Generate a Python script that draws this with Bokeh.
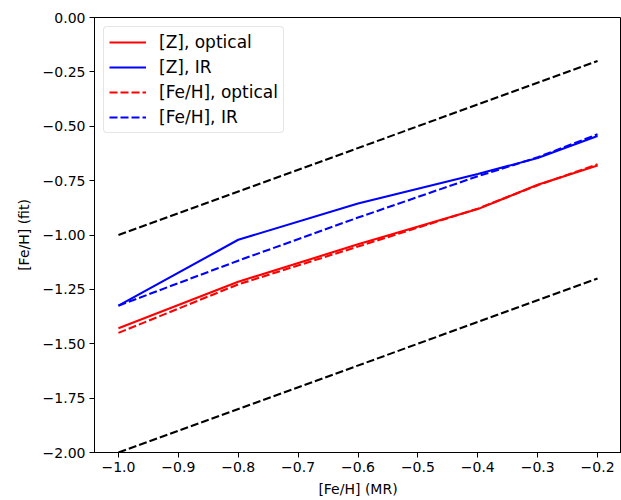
from bokeh.plotting import figure
from bokeh.models import FixedTicker, Range1d, Legend, LegendItem
from bokeh.embed import file_html
from bokeh.resources import INLINE

# Data
fe_mr = [-1.0, -0.8, -0.6, -0.4, -0.3, -0.2]
z_optical = [-1.429, -1.215, -1.043, -0.881, -0.769, -0.681]
z_ir = [-1.325, -1.022, -0.855, -0.72, -0.646, -0.545]
feh_optical = [-1.450, -1.227, -1.053, -0.879, -0.771, -0.675]
feh_ir = [-1.325, -1.118, -0.920, -0.730, -0.643, -0.537]
ref_x = [-1.0, -0.2]
ref_upper = [-1.0, -0.2]
ref_lower = [-2.0, -1.2]

x_ticks = [-1.0, -0.9, -0.8, -0.7, -0.6, -0.5, -0.4, -0.3, -0.2]
y_ticks = [0.0, -0.25, -0.5, -0.75, -1.0, -1.25, -1.5, -1.75, -2.0]


def fmt(v, nd):
    s = f"{abs(v):.{nd}f}"
    return ("\u2212" + s) if v < 0 else s


FONT = "DejaVu Sans"

p = figure(width=621, height=500, output_backend="svg", toolbar_location=None,
           x_range=Range1d(-1.04, -0.16), y_range=Range1d(-2.0, 0.0),
           min_border_left=94, min_border_right=0, min_border_top=17, min_border_bottom=48)
p.background_fill_color = "white"
p.border_fill_color = "white"
p.outline_line_color = "black"
p.outline_line_width = 1
p.xgrid.visible = False
p.ygrid.visible = False

dash = "8 3"
r1 = p.line(fe_mr, z_optical, line_color="red", line_width=2.1)
r2 = p.line(fe_mr, z_ir, line_color="blue", line_width=2.1)
r3 = p.line(fe_mr, feh_optical, line_color="red", line_width=2.1, line_dash=dash)
r4 = p.line(fe_mr, feh_ir, line_color="blue", line_width=2.1, line_dash=dash)
p.line(ref_x, ref_upper, line_color="black", line_width=2.1, line_dash=dash)
p.line(ref_x, ref_lower, line_color="black", line_width=2.1, line_dash=dash)

for ax in (p.xaxis[0], p.yaxis[0]):
    ax.minor_tick_line_color = None
    ax.major_tick_out = 5
    ax.major_tick_in = 0
    ax.major_tick_line_color = "black"
    ax.axis_line_color = "black"
    ax.major_label_text_font = FONT
    ax.major_label_text_font_size = "14px"
    ax.major_label_text_color = "black"
    ax.axis_label_text_font = FONT
    ax.axis_label_text_font_size = "14px"
    ax.axis_label_text_font_style = "normal"
    ax.axis_label_text_color = "black"
    ax.major_label_standoff = 4

p.xaxis[0].ticker = FixedTicker(ticks=x_ticks)
p.xaxis[0].major_label_overrides = {t: fmt(t, 1) for t in x_ticks}
p.yaxis[0].ticker = FixedTicker(ticks=y_ticks)
p.yaxis[0].major_label_overrides = {t: fmt(t, 2) for t in y_ticks}
p.xaxis[0].axis_label = "[Fe/H] (MR)"
p.yaxis[0].axis_label = "[Fe/H] (fit)"
p.xaxis[0].axis_label_standoff = 6
p.yaxis[0].axis_label_standoff = 8

legend = Legend(items=[
    LegendItem(label="[Z], optical", renderers=[r1]),
    LegendItem(label="[Z], IR", renderers=[r2]),
    LegendItem(label="[Fe/H], optical", renderers=[r3]),
    LegendItem(label="[Fe/H], IR", renderers=[r4]),
], location="top_left")
legend.margin = 9
legend.padding = 5
legend.spacing = 5
legend.glyph_width = 37
legend.glyph_height = 20
legend.label_height = 20
legend.label_standoff = 13
legend.label_text_font = FONT
legend.label_text_font_size = "17px"
legend.label_text_color = "black"
legend.border_line_color = "#cccccc"
legend.border_line_width = 1
legend.background_fill_color = "white"
legend.background_fill_alpha = 0.8
if hasattr(legend, "border_radius"):
    legend.border_radius = 4
p.add_layout(legend, "center")

open("out.html", "w").write(file_html(p, INLINE))
